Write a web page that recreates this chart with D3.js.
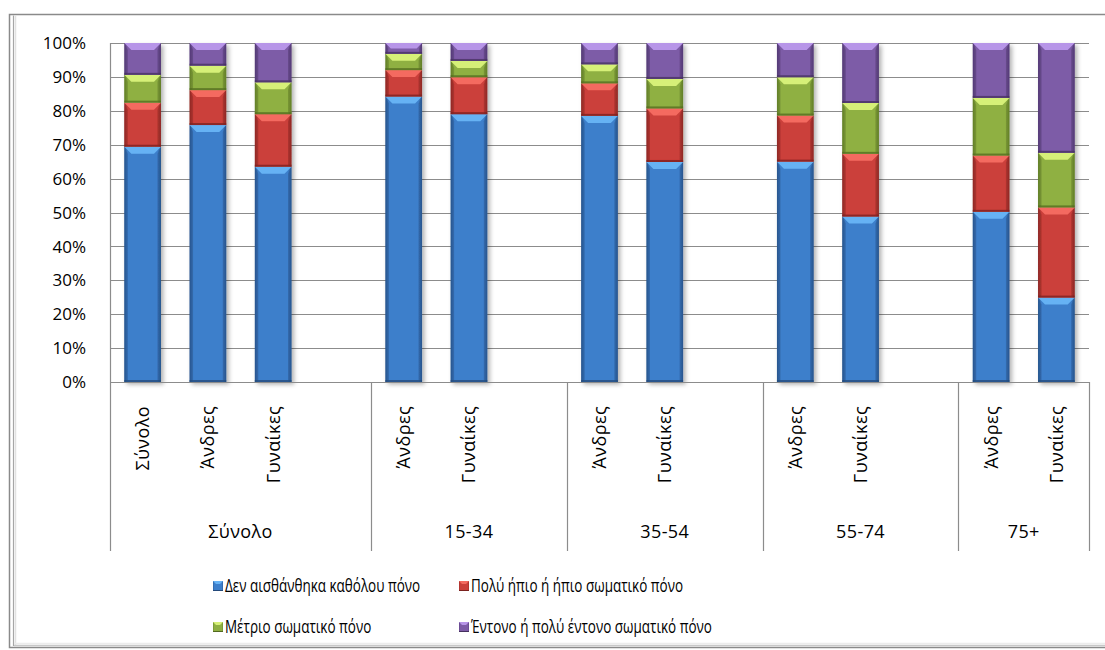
<!DOCTYPE html>
<html>
<head>
<meta charset="utf-8">
<script src="https://cdn.jsdelivr.net/npm/d3@7"></script>
<style>
  html, body { margin: 0; padding: 0; background: #fff; }
  svg { display: block; }
  text { font-family: "Open Sans", "DejaVu Sans", sans-serif; fill: #000; }
</style>
</head>
<body>
<svg id="chart" width="1105" height="650"></svg>
<script>
// ---- data ----
const groups = ["Σύνολο", "15-34", "35-54", "55-74", "75+"];
const barGroup = ["Σύνολο", "Σύνολο", "Σύνολο", "15-34", "15-34", "35-54", "35-54", "55-74", "55-74", "75+", "75+"];
const barLabel = ["Σύνολο", "Άνδρες", "Γυναίκες", "Άνδρες", "Γυναίκες", "Άνδρες", "Γυναίκες", "Άνδρες", "Γυναίκες", "Άνδρες", "Γυναίκες"];
const seriesNames = [
  "Δεν αισθάνθηκα καθόλου πόνο",
  "Πολύ ήπιο ή ήπιο σωματικό πόνο",
  "Μέτριο σωματικό πόνο",
  "Έντονο ή πολύ έντονο σωματικό πόνο"
];
const noPain       = [69.4, 75.8, 63.5, 84.2, 79.0, 78.5, 64.9, 65.0, 48.8, 50.2, 24.9];
const mildPain     = [13.0, 10.3, 15.5,  7.8, 10.9,  9.6, 15.8, 13.6, 18.5, 16.6, 26.6];
const moderatePain = [ 8.2,  7.2,  9.4,  4.8,  4.8,  5.6,  8.7, 11.3, 15.0, 17.0, 16.1];
const severePain   = [ 9.4,  6.7, 11.6,  3.2,  5.3,  6.3, 10.6, 10.1, 17.7, 16.2, 32.4];
const yTicks = [0, 10, 20, 30, 40, 50, 60, 70, 80, 90, 100];

// ---- styles ----
const seriesStyle = [
  { base: "#3d7fcb", edge: "#2b5c98", light: "#66b2f4", dark: "#23497a" },
  { base: "#cb3f3a", edge: "#9a2c28", light: "#f46a60", dark: "#7a221f" },
  { base: "#8fb043", edge: "#6a8a2c", light: "#d6f078", dark: "#52691f" },
  { base: "#7d5ba7", edge: "#5b3f82", light: "#b795e8", dark: "#45305f" }
];

const svg = d3.select("#chart");
const defs = svg.append("defs");

// outer frame
svg.append("rect").attr("x", 0).attr("y", 0).attr("width", 1105).attr("height", 650).attr("fill", "#fff");
svg.append("rect").attr("x", 9.5).attr("y", 14.5).attr("width", 1120).attr("height", 633)
  .attr("fill", "#fff").attr("stroke", "#8a8a8a").attr("stroke-width", 1.5);
svg.append("line").attr("x1", 13.5).attr("x2", 13.5).attr("y1", 15.5).attr("y2", 646)
  .attr("stroke", "#a6a6a6").attr("stroke-width", 1.2);
svg.append("line").attr("x1", 15.5).attr("x2", 15.5).attr("y1", 15.5).attr("y2", 645)
  .attr("stroke", "#e2e2e2").attr("stroke-width", 1.5);
svg.append("line").attr("x1", 14).attr("x2", 1105).attr("y1", 645.5).attr("y2", 645.5)
  .attr("stroke", "#c8c8c8").attr("stroke-width", 1.5);
svg.append("line").attr("x1", 14).attr("x2", 1105).attr("y1", 643.5).attr("y2", 643.5)
  .attr("stroke", "#ececec").attr("stroke-width", 1.5);

// gradients per series
seriesStyle.forEach((s, i) => {
  const g = defs.append("linearGradient").attr("id", "grad" + i)
    .attr("x1", "0%").attr("x2", "100%").attr("y1", "0%").attr("y2", "0%");
  g.append("stop").attr("offset", "0%").attr("stop-color", s.edge);
  g.append("stop").attr("offset", "10%").attr("stop-color", s.base);
  g.append("stop").attr("offset", "90%").attr("stop-color", s.base);
  g.append("stop").attr("offset", "100%").attr("stop-color", s.edge);
});
const shadow = defs.append("filter").attr("id", "barShadow")
  .attr("x", "-30%").attr("y", "-5%").attr("width", "180%").attr("height", "115%");
shadow.append("feDropShadow").attr("dx", 2.5).attr("dy", 2.5).attr("stdDeviation", 2)
  .attr("flood-color", "#000").attr("flood-opacity", 0.3);

// ---- scales ----
const plotLeft = 110, plotRight = 1089, plotTop = 43, plotBottom = 382, axisBottom = 551;

const rows = barLabel.map((lab, i) => ({
  key: barGroup[i] + "|" + i,
  group: barGroup[i],
  label: lab,
  s0: noPain[i], s1: mildPain[i], s2: moderatePain[i], s3: severePain[i]
}));

// category slots: bars of each group, with one empty slot between groups
const slots = [];
groups.forEach((g, gi) => {
  rows.filter(r => r.group === g).forEach(r => slots.push(r.key));
  if (gi < groups.length - 1) slots.push(g + "|gap");
});

const x = d3.scaleBand().domain(slots).range([plotLeft, plotRight])
  .paddingInner(0.438).paddingOuter(0.219);
const y = d3.scaleLinear().domain([0, 100]).range([plotBottom, plotTop]);
const step = x.step();
const slotStart = k => plotLeft + slots.indexOf(k) * step;

// gridlines
svg.append("g").selectAll("line").data(yTicks.filter(t => t > 0)).join("line")
  .attr("x1", plotLeft).attr("x2", plotRight)
  .attr("y1", d => Math.round(y(d)) + 0.5).attr("y2", d => Math.round(y(d)) + 0.5)
  .attr("stroke", "#8c8c8c").attr("stroke-width", 1);

// y axis labels
svg.append("g").selectAll("text").data(yTicks).join("text")
  .attr("x", plotLeft - 24).attr("y", d => y(d))
  .attr("dy", "0.36em").attr("text-anchor", "end")
  .style("font-size", "17px")
  .text(d => d + "%");

// ---- bars ----
const stack = d3.stack().keys(["s0", "s1", "s2", "s3"]);
const stacked = stack(rows);

const barsG = svg.append("g");
rows.forEach((r, ri) => {
  const bg = barsG.append("g").attr("filter", "url(#barShadow)");
  stacked.forEach((layer, si) => {
    const d = layer[ri];
    const s = seriesStyle[si];
    const bx = x(r.key), bw = x.bandwidth();
    const yt = y(d[1]), yb = y(d[0]);
    const h = yb - yt;
    const b = Math.min(7, h / 2);
    const seg = bg.append("g");
    seg.append("rect").attr("x", bx).attr("y", yt).attr("width", bw).attr("height", h)
      .attr("fill", `url(#grad${si})`);
    // top bevel
    seg.append("polygon")
      .attr("points", [[bx, yt], [bx + bw, yt], [bx + bw - b, yt + b], [bx + b, yt + b]].map(p => p.join(",")).join(" "))
      .attr("fill", s.light);
    // side shading
    seg.append("polygon")
      .attr("points", [[bx, yt], [bx + b * 0.5, yt + b], [bx + b * 0.5, yb - 2], [bx, yb]].map(p => p.join(",")).join(" "))
      .attr("fill", s.dark).attr("opacity", 0.35);
    seg.append("polygon")
      .attr("points", [[bx + bw, yt], [bx + bw - b * 0.5, yt + b], [bx + bw - b * 0.5, yb - 2], [bx + bw, yb]].map(p => p.join(",")).join(" "))
      .attr("fill", s.dark).attr("opacity", 0.35);
    // bottom edge
    seg.append("rect").attr("x", bx).attr("y", yb - 2).attr("width", bw).attr("height", 2)
      .attr("fill", s.dark).attr("opacity", 0.75);
  });
});

// axes lines
svg.append("line").attr("x1", plotLeft + 0.5).attr("x2", plotLeft + 0.5)
  .attr("y1", plotTop).attr("y2", axisBottom)
  .attr("stroke", "#8c8c8c").attr("stroke-width", 1.2);
svg.append("line").attr("x1", plotLeft).attr("x2", plotRight)
  .attr("y1", Math.round(y(0)) + 0.5).attr("y2", Math.round(y(0)) + 0.5)
  .attr("stroke", "#8c8c8c").attr("stroke-width", 1.2);

// group separators on the category axis
const groupBounds = groups.map(g => {
  const ks = slots.filter(k => k.startsWith(g + "|"));
  return { g, x0: slotStart(ks[0]), x1: slotStart(ks[ks.length - 1]) + step };
});
svg.append("g").selectAll("line").data(groupBounds).join("line")
  .attr("x1", d => Math.round(d.x1) + 0.5).attr("x2", d => Math.round(d.x1) + 0.5)
  .attr("y1", plotBottom).attr("y2", axisBottom)
  .attr("stroke", "#8c8c8c").attr("stroke-width", 1.2);

// bar labels (rotated)
svg.append("g").selectAll("text").data(rows).join("text")
  .attr("transform", d => `translate(${x(d.key) + x.bandwidth() / 2},406) rotate(-90)`)
  .attr("text-anchor", "end").attr("dy", "0.36em")
  .style("font-size", "18px").style("letter-spacing", "0.4px")
  .text(d => d.label);

// group labels
svg.append("g").selectAll("text").data(groupBounds).join("text")
  .attr("x", d => (d.x0 + d.x1) / 2).attr("y", 538)
  .attr("text-anchor", "middle")
  .style("font-size", "18px").style("letter-spacing", "0.4px")
  .text(d => d.g);

// ---- legend ----
const legendPos = [[213, 586], [459, 586], [213, 627], [459, 627]];
const legend = svg.append("g");
seriesNames.forEach((name, i) => {
  const [lx, ly] = legendPos[i];
  const s = seriesStyle[i];
  const item = legend.append("g");
  item.append("rect").attr("x", lx).attr("y", ly - 5).attr("width", 10).attr("height", 10)
    .attr("fill", `url(#grad${i})`);
  item.append("polygon")
    .attr("points", [[lx, ly - 5], [lx + 10, ly - 5], [lx + 7, ly - 2], [lx + 3, ly - 2]].map(p => p.join(",")).join(" "))
    .attr("fill", s.light);
  item.append("rect").attr("x", lx).attr("y", ly + 4).attr("width", 10).attr("height", 1)
    .attr("fill", s.dark);
  item.append("text").attr("x", lx + 12).attr("y", ly).attr("dy", "0.36em")
    .attr("transform", `translate(${lx + 12},0) scale(0.77,1) translate(${-(lx + 12)},0)`)
    .style("font-size", "17.5px")
    .text(name);
});
</script>
</body>
</html>
